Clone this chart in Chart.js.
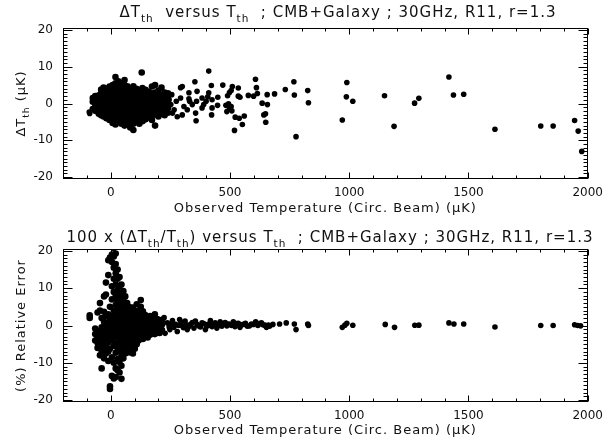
<!DOCTYPE html>
<html>
<head>
<meta charset="utf-8">
<script src="https://cdn.jsdelivr.net/npm/chart.js@4"></script>
<style>
  html, body { margin: 0; padding: 0; background: #fff; }
  canvas { display: block; }
</style>
</head>
<body>
<canvas id="topChart" width="610" height="222"></canvas>
<canvas id="bottomChart" width="610" height="222"></canvas>
<script>
// axis setup
const X_MIN = -200, X_MAX = 2000;
const Y_MIN = -20.5, Y_MAX = 20.5;
const xTickValues = [0, 500, 1000, 1500, 2000];
const yTickValues = [-20, -10, 0, 10, 20];

// top panel: dense core, one entry per temperature column [T, [dT...]]
const topCore = [
  [-75, [-1.5, 0.5, 1.5]],
  [-65, [-2, -1, 0, 1, 2]],
  [-50, [-2.8, -1.8, -0.8, 0.2, 1.2, 2.2]],
  [-40, [3.8, -3.2, -2.2, -1.2, -0.2, 0.8, 1.8, 2.8]],
  [-30, [4.3, -3.5, -2.5, -1.5, -0.5, 0.5, 1.5, 2.5, 3.3]],
  [-18, [-4, -3, -2, -1, 0, 1, 2, 3, 4]],
  [-5, [-4.5, -3.4, -2.4, -1.4, -0.4, 0.6, 1.6, 2.6, 3.6, 4.6]],
  [8, [-5.3, -4, -3, -2, -1, 0, 1, 2, 3, 4, 5]],
  [20, [-5.7, -4.5, -3.5, -2.5, -1.5, -0.5, 0.5, 1.5, 2.5, 3.5, 4.5, 5.5, 7.2]],
  [32, [-5, -4, -3, -2, -1, 0, 1, 2, 3, 4, 5, 6]],
  [45, [-5.5, -4.5, -3.5, -2.5, -1.5, -0.5, 0.5, 1.5, 2.5, 3.5, 4.5, 5.5]],
  [58, [-6, -5, -4, -3, -2, -1, 0, 1, 2, 3, 4, 5, 6.4]],
  [70, [-5.3, -4.3, -3.3, -2.3, -1.3, -0.3, 0.7, 1.7, 2.7, 3.7, 4.7]],
  [82, [-6.5, -5, -4, -3, -2, -1, 0, 1, 2, 3, 4]],
  [95, [-7.2, -5.5, -4.5, -3.5, -2.5, -1.5, -0.5, 0.5, 1.5, 2.5, 3.5, 4.7]],
  [108, [-5, -4, -3, -2, -1, 0, 1, 2, 3, 4]],
  [120, [-5.5, -4.5, -3.5, -2.5, -1.5, -0.5, 0.5, 1.5, 2.5, 3.5]],
  [130, [8.4]],
  [133, [-4.8, -3.8, -2.8, -1.8, -0.8, 0.2, 1.2, 2.2, 3.2, 4.2]],
  [146, [-4.3, -3.3, -2.3, -1.3, -0.3, 0.7, 1.7, 2.7, 3.7]],
  [160, [-3.8, -2.8, -1.8, -0.8, 0.2, 1.2, 2.2, 3.2]],
  [173, [-4.5, -3.3, -2.3, -1.3, -0.3, 0.7, 1.7, 2.7, 4.6]],
  [186, [-6, -3, -2, -1, 0, 1, 2, 3, 5]],
  [200, [-3.5, -2.5, -1.5, -0.5, 0.5, 1.5, 2.5, 3.5]],
  [213, [-2.8, -1.8, -0.8, 0.2, 1.2, 2.2, 4.3]],
  [226, [-3.2, -2, -1, 0, 1, 2, 3]],
  [240, [-2.5, -1.2, 0.3, 1.5, 2.8]]
];

// top panel: scattered points [T, dT]
const topSparse = [
  [-90, -2.3], [-88, -2.7],
  [245, 1.0], [252, -0.3], [256, 2.4], [259, -2.6], [266, -1.7], [275, 0.6], [279, -3.6],
  [293, 1.5], [293, 4.3], [300, 4.6], [300, -3.1], [307, -0.8], [321, -1.7], [328, 1.3],
  [328, 2.9], [331, 0.6], [342, -0.3], [353, 5.9], [356, -2.6], [358, -4.7], [360, 0.6],
  [362, 3.3], [383, -1.2], [383, 1.5], [390, -0.3], [400, 0.6], [407, 1.8], [411, 2.9],
  [411, 8.8], [422, 4.9], [423, -3.1], [425, -1.2], [425, 1.0], [448, -0.5], [449, 1.7],
  [470, 5.0], [483, -0.5], [487, -2.2], [490, 2.1], [494, -0.1], [498, 3.0], [498, -1.5],
  [505, 3.5], [505, -0.8], [508, -2.0], [510, 4.6], [519, -7.3], [522, -3.7], [535, 4.2],
  [535, 2.0], [539, -4.0], [542, 1.7], [552, -5.7], [560, -3.4], [577, 2.2], [599, 2.0],
  [607, 6.6], [611, 4.3], [615, 2.7], [635, 0.1], [642, -3.1], [649, -2.8], [650, -5.1],
  [656, 2.4], [657, -0.3], [687, 2.6], [732, 3.8], [768, 5.9], [770, 2.3], [777, -9.0],
  [826, 3.5], [829, 0.2],
  [971, -4.5], [988, 1.8], [990, 5.7], [1015, 0.6], [1148, 2.1], [1188, -6.2],
  [1274, 0.1], [1292, 1.4], [1418, 7.2], [1437, 2.3], [1480, 2.5], [1611, -7.0],
  [1803, -6.1], [1855, -6.1], [1945, -4.6], [1960, -7.5], [1975, -13.0]
];

// bottom panel: dense core [T, [% error...]]
const bottomCore = [
  [-88, [2.0, 2.7]],
  [-65, [-0.8, -2.3, -4.0]],
  [-55, [-1.5, -3.0, -4.6, -6.0, 3.5]],
  [-45, [-2.2, -3.8, -5.3, -8.0, 4.0, 6.0]],
  [-38, [-0.5, -2.0, -6.8, -11.5, 2.0]],
  [-28, [-1.0, -2.6, -4.2, -6.0, -8.8, 1.0, 3.7, 7.8]],
  [-20, [-1.8, -3.4, -5.2, -7.5, 0.4, 2.5, 8.3, 11.5]],
  [-10, [-2.5, -4.5, -7.0, -9.5, 0.0, 3.0, 13.5, 17.5]],
  [-3, [-1.0, -3.5, -6.2, -16.3, -17.0, 1.5, 5.0, 18.2]],
  [5, [-2.0, -4.0, -8.5, -13.5, 0.0, 2.5, 7.0, 10.5, 17.0, 19.0]],
  [13, [-1.0, -3.2, -5.5, -10.0, -14.2, 1.2, 4.0, 9.0, 12.5, 15.5, 18.5, 20.8]],
  [21, [-2.2, -4.8, -7.3, -11.5, -13.8, 0.2, 2.5, 5.5, 8.0, 11.0, 14.0, 16.5, 19.3]],
  [29, [-0.8, -3.0, -6.0, -9.0, -12.0, 1.5, 4.0, 6.5, 9.5, 12.5, 15.0]],
  [37, [-2.0, -4.2, -6.8, -9.8, -12.6, 0.0, 2.8, 5.2, 7.8, 10.5, 13.0]],
  [45, [-1.0, -3.2, -5.5, -8.2, -10.8, -14.3, 1.2, 3.5, 6.0, 8.5, 11.0]],
  [53, [-2.0, -4.2, -6.5, -8.8, 0.2, 2.3, 4.5, 7.0, 9.2]],
  [61, [-1.0, -3.0, -5.2, -7.5, 1.2, 3.3, 5.5, 7.8]],
  [69, [-2.0, -4.0, -6.3, 0.0, 2.0, 4.2, 6.0]],
  [77, [-1.0, -3.0, -5.0, -7.2, 1.0, 3.0, 5.0]],
  [85, [-2.0, -4.2, -6.5, 0.0, 2.0, 4.0]],
  [93, [-1.0, -3.0, -5.0, -7.5, 1.0, 3.0, 4.8]],
  [101, [-2.0, -4.0, -6.2, 0.0, 2.0, 3.8]],
  [109, [-1.0, -3.0, -5.0, 1.0, 3.0, 5.7]],
  [117, [-2.0, -4.0, 0.0, 2.0, 4.0]],
  [126, [-1.0, -3.0, 1.0, 3.0, 5.0, 6.8]],
  [135, [-2.0, -3.6, 0.0, 2.0, 3.8]],
  [145, [-1.0, -2.8, 1.0, 2.8]],
  [155, [-3.2, -1.8, 0.0, 1.8]],
  [165, [-2.5, -1.0, 0.8, 2.5]],
  [175, [-1.8, 0.0, 1.6]],
  [185, [-2.3, -1.0, 0.8, 3.0]],
  [195, [-1.5, 0.2, 1.7]],
  [205, [-2.0, -0.8, 0.8]],
  [215, [-1.2, 0.3, 1.5]]
];

// bottom panel: tail [T, % error]
const bottomSparse = [
  [224, 2.1], [228, -2.1], [238, 0.7], [245, -0.4], [248, -1.1], [255, 0.6], [259, 1.3],
  [265, -0.5], [272, 0.3], [279, -1.6], [285, 0.0], [289, 1.6], [295, 0.9], [300, -0.1],
  [305, -0.6], [312, 1.2], [318, 0.2], [321, -1.1], [328, -0.3], [335, 0.3], [342, 0.8],
  [349, -0.7], [355, 1.2], [362, 0.3], [369, -0.1], [376, -0.4], [383, 0.7], [390, 0.5],
  [397, -1.1], [403, -0.2], [408, 0.3], [413, 0.0], [418, 1.3], [425, -0.3], [431, 0.3],
  [438, 0.7], [445, -0.7], [452, 0.1], [459, 1.0], [466, -0.2], [473, 0.5], [480, 0.8],
  [487, -0.1], [493, 0.4], [500, 0.3], [507, 0.0], [514, 1.0], [521, -0.3], [528, 0.5],
  [535, 0.6], [542, -0.5], [548, 0.2], [556, 0.3], [565, 0.6], [573, -0.2], [582, -0.1],
  [590, 0.4], [598, 0.3], [608, 1.0], [617, 0.0], [625, 0.5], [632, 0.7], [639, 0.2],
  [646, 0.1], [653, -0.5], [661, 0.1], [666, -0.2], [680, 0.3], [708, 0.4], [736, 0.7],
  [770, 0.4], [777, -1.1], [826, 0.4], [829, 0.0],
  [971, -0.5], [982, 0.1], [990, 0.6], [1015, 0.05], [1151, 0.3], [1190, -0.5],
  [1275, 0.05], [1292, 0.1], [1418, 0.7], [1439, 0.4], [1480, 0.4], [1611, -0.4],
  [1803, 0.0], [1855, 0.0], [1945, 0.2], [1958, 0.0], [1970, -0.1]
];

const FONT = '"DejaVu Sans", sans-serif';

function corePoints(core) {
  const pts = [];
  core.forEach(([t, vals]) => vals.forEach(v => pts.push({ x: t, y: v })));
  return pts;
}
function sparsePoints(sparse) {
  return sparse.map(([t, v]) => ({ x: t, y: v }));
}

// text with subscripts, parts = [{t, sub}]
function richText(ctx, parts, x, y, size, align, spacing) {
  ctx.letterSpacing = spacing + 'px';
  let w = 0;
  parts.forEach(p => {
    ctx.font = (p.sub ? size * 0.7 : size) + 'px ' + FONT;
    w += ctx.measureText(p.t).width;
  });
  let cx = align === 'center' ? x - w / 2 : x;
  ctx.textAlign = 'left';
  ctx.textBaseline = 'alphabetic';
  parts.forEach(p => {
    const s = p.sub ? size * 0.7 : size;
    ctx.font = s + 'px ' + FONT;
    ctx.fillText(p.t, cx, y + (p.sub ? size * 0.3 : 0));
    cx += ctx.measureText(p.t).width;
  });
  ctx.letterSpacing = '0px';
}

// IDL-style frame, minor ticks and titles
const idlAxes = {
  id: 'idlAxes',
  afterDraw(chart, args, o) {
    const { ctx, chartArea: a } = chart;
    const xs = chart.scales.x, ys = chart.scales.y;
    const L = Math.round(a.left) + 0.5, R = Math.round(a.right) - 0.5;
    const T = Math.round(a.top) + 0.5, B = Math.round(a.bottom) - 0.5;
    ctx.save();
    ctx.strokeStyle = '#000';
    ctx.lineWidth = 1;
    ctx.strokeRect(L, T, R - L, B - T);
    ctx.beginPath();
    for (let v = X_MIN; v <= X_MAX; v += 100) {
      const px = Math.round(xs.getPixelForValue(v)) + 0.5;
      const len = v % 500 === 0 ? 6 : 3;
      ctx.moveTo(px, B); ctx.lineTo(px, B - len);
      ctx.moveTo(px, T); ctx.lineTo(px, T + len);
    }
    for (let v = -20; v <= 20; v += 1) {
      const py = Math.round(ys.getPixelForValue(v)) + 0.5;
      const len = v % 10 === 0 ? 9 : 4;
      ctx.moveTo(L, py); ctx.lineTo(L + len, py);
      ctx.moveTo(R, py); ctx.lineTo(R - len, py);
    }
    ctx.stroke();

    ctx.fillStyle = '#111';
    richText(ctx, o.title, o.titleX, o.titleY, 15, 'center', 1);
    richText(ctx, [{ t: 'Observed Temperature (Circ. Beam) (μK)' }], (a.left + a.right) / 2, 212, 13, 'center', 1);
    ctx.translate(25, (a.top + a.bottom) / 2);
    ctx.rotate(-Math.PI / 2);
    richText(ctx, o.yTitle, 0, 0, 13, 'center', 1);
    ctx.restore();
  }
};

function makeChart(id, core, sparse, opts) {
  const dot = { backgroundColor: '#000', borderWidth: 0 };
  return new Chart(document.getElementById(id), {
    type: 'scatter',
    data: {
      datasets: [
        { ...dot, data: corePoints(core), pointRadius: 3.3, pointHoverRadius: 3.3 },
        { ...dot, data: sparsePoints(sparse), pointRadius: 2.8, pointHoverRadius: 2.8 }
      ]
    },
    plugins: [idlAxes],
    options: {
      responsive: false,
      animation: false,
      devicePixelRatio: 1,
      layout: { padding: { top: opts.top, right: 17, left: 0, bottom: 0 } },
      plugins: { legend: { display: false }, tooltip: { enabled: false }, idlAxes: opts },
      scales: {
        x: {
          type: 'linear', min: X_MIN, max: X_MAX,
          afterFit(s) { s.height = opts.xh; },
          afterBuildTicks(s) { s.ticks = xTickValues.map(v => ({ value: v })); },
          grid: { display: false, drawTicks: false },
          border: { display: false },
          ticks: {
            padding: 7, color: '#111', maxRotation: 0, autoSkip: false,
            font: { family: FONT, size: 12 },
            callback: v => String(v)
          }
        },
        y: {
          type: 'linear', min: Y_MIN, max: Y_MAX,
          afterFit(s) { s.width = 63; },
          afterBuildTicks(s) { s.ticks = yTickValues.map(v => ({ value: v })); },
          grid: { display: false, drawTicks: false },
          border: { display: false },
          ticks: { padding: 10, color: '#111', font: { family: FONT, size: 12 }, callback: v => String(v) }
        }
      }
    }
  });
}

makeChart('topChart', topCore, topSparse, {
  top: 28, xh: 43,
  titleX: 338, titleY: 17,
  title: [{ t: 'ΔT' }, { t: 'th', sub: true }, { t: '  versus T' }, { t: 'th', sub: true },
          { t: '  ; CMB+Galaxy ; 30GHz, R11, r=1.3' }],
  yTitle: [{ t: 'ΔT' }, { t: 'th', sub: true }, { t: ' (μK)' }]
});

makeChart('bottomChart', bottomCore, bottomSparse, {
  top: 27, xh: 42,
  titleX: 330, titleY: 20,
  title: [{ t: '100 x (ΔT' }, { t: 'th', sub: true }, { t: '/T' }, { t: 'th', sub: true },
          { t: ') versus T' }, { t: 'th', sub: true }, { t: '  ; CMB+Galaxy ; 30GHz, R11, r=1.3' }],
  yTitle: [{ t: '(%) Relative Error' }]
});
</script>
</body>
</html>
